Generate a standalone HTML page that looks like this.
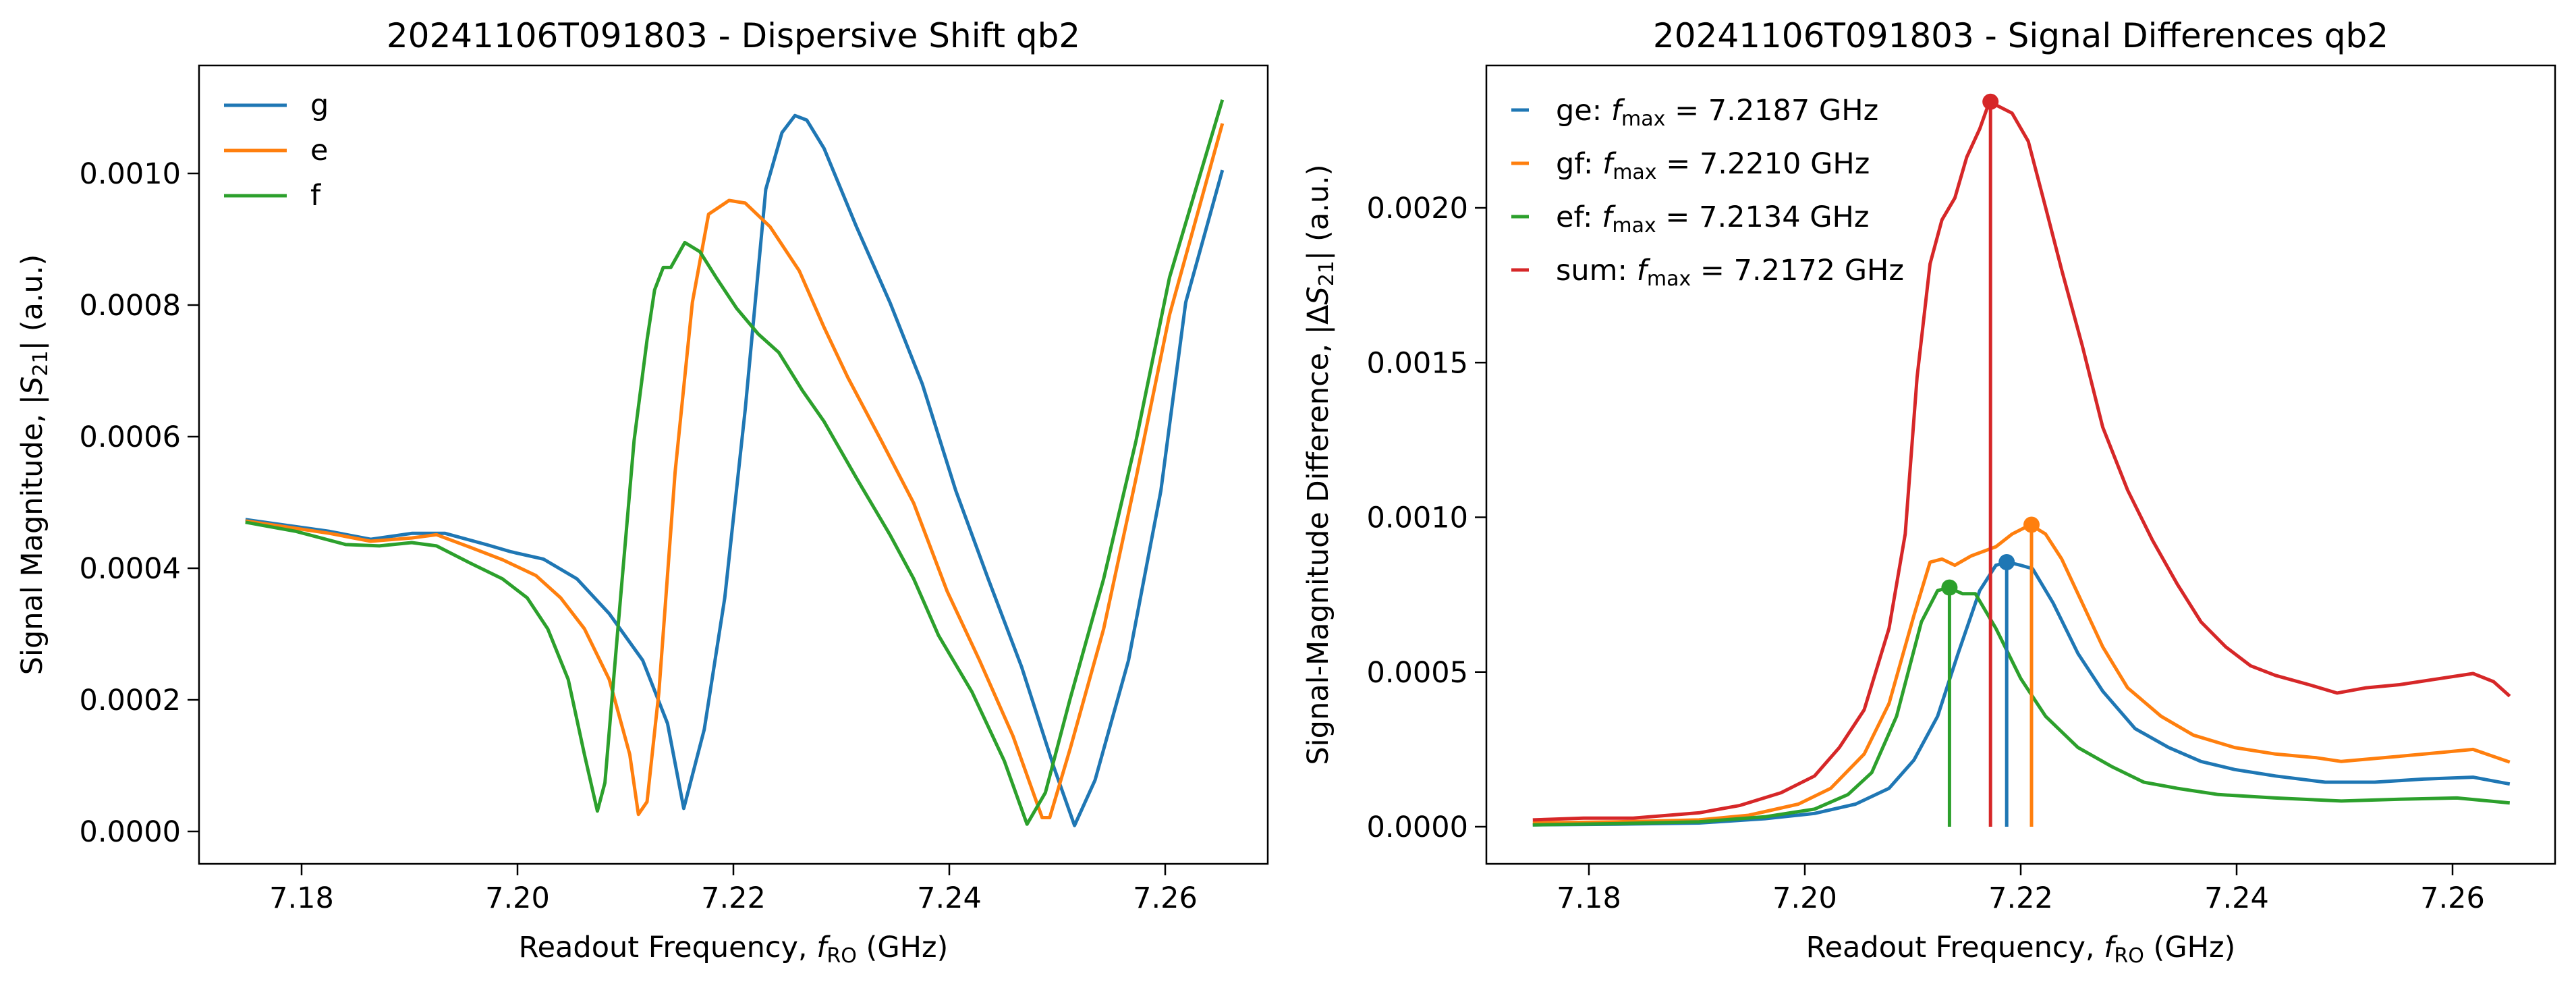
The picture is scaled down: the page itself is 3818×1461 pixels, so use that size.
<!DOCTYPE html>
<html><head><meta charset="utf-8"><style>
html,body{margin:0;padding:0;background:#fff;}
svg{display:block;font-family:"DejaVu Sans","Liberation Sans",sans-serif;}
</style></head><body>
<svg id="fig" width="3818" height="1461" viewBox="0 0 3818 1461" xmlns="http://www.w3.org/2000/svg"></svg>
<script>
// ---- Left chart data (Dispersive Shift) ----
const gFreq=[7.1748,7.1826,7.1864,7.1902,7.1933,7.1971,7.1994,7.2024,7.2055,7.2085,7.2116,7.2139,7.2154,7.2173,7.2192,7.2211,7.2230,7.2245,7.2257,7.2268,7.2284,7.2314,7.2345,7.2375,7.2406,7.2436,7.2467,7.2497,7.2516,7.2535,7.2566,7.2596,7.2619,7.2653];
const gMag=[0.000474,0.000456,0.000444,0.000453,0.000453,0.000436,0.000425,0.000414,0.000384,0.000331,0.000260,0.000164,0.000035,0.000155,0.000355,0.000642,0.000976,0.001062,0.001088,0.001081,0.001038,0.000919,0.000804,0.000680,0.000518,0.000384,0.000250,0.000097,0.000009,0.000078,0.000260,0.000518,0.000804,0.001005];
const eFreq=[7.1748,7.1826,7.1864,7.1902,7.1925,7.1956,7.1986,7.2017,7.2040,7.2062,7.2085,7.2104,7.2112,7.2120,7.2131,7.2146,7.2162,7.2177,7.2196,7.2211,7.2234,7.2261,7.2284,7.2306,7.2337,7.2367,7.2398,7.2428,7.2459,7.2486,7.2493,7.2512,7.2543,7.2573,7.2604,7.2653];
const eMag=[0.000472,0.000453,0.000441,0.000446,0.000451,0.000432,0.000413,0.000389,0.000355,0.000308,0.000231,0.000117,0.000026,0.000045,0.000212,0.000546,0.000804,0.000938,0.000959,0.000955,0.000919,0.000852,0.000766,0.000690,0.000594,0.000499,0.000365,0.000260,0.000145,0.000021,0.000021,0.000126,0.000308,0.000537,0.000785,0.001076];
const fFreq=[7.1748,7.1795,7.1841,7.1872,7.1902,7.1925,7.1956,7.1986,7.2009,7.2028,7.2047,7.2062,7.2074,7.2081,7.2093,7.2108,7.2120,7.2127,7.2135,7.2142,7.2155,7.2169,7.2184,7.2203,7.2223,7.2242,7.2264,7.2284,7.2314,7.2345,7.2367,7.2390,7.2421,7.2451,7.2472,7.2489,7.2512,7.2543,7.2573,7.2604,7.2653];
const fMag=[0.000470,0.000456,0.000436,0.000434,0.000439,0.000434,0.000408,0.000384,0.000355,0.000308,0.000231,0.000117,0.000031,0.000074,0.000308,0.000594,0.000747,0.000823,0.000857,0.000857,0.000895,0.000881,0.000842,0.000795,0.000756,0.000728,0.000670,0.000623,0.000537,0.000451,0.000384,0.000298,0.000212,0.000107,0.000011,0.000059,0.000202,0.000384,0.000594,0.000842,0.001112];
const leftYTicks=[0,0.0002,0.0004,0.0006,0.0008,0.0010];
const leftYTickLabels=["0.0000","0.0002","0.0004","0.0006","0.0008","0.0010"];
// ---- Right chart data (Signal Differences) ----
const sumFreq=[7.1748,7.1795,7.1841,7.1902,7.1940,7.1978,7.2009,7.2032,7.2055,7.2078,7.2093,7.2104,7.2116,7.2127,7.2139,7.2150,7.2162,7.2171,7.2183,7.2192,7.2207,7.2223,7.2238,7.2257,7.2276,7.2299,7.2322,7.2345,7.2367,7.2390,7.2413,7.2436,7.2467,7.2493,7.2520,7.2551,7.2581,7.2619,7.2638,7.2653];
const sumDiff=[0.000022,0.000028,0.000028,0.000045,0.000069,0.000110,0.000164,0.000256,0.000378,0.000641,0.000946,0.001453,0.001819,0.001961,0.002032,0.002164,0.002255,0.002343,0.002322,0.002306,0.002215,0.002002,0.001799,0.001555,0.001291,0.001088,0.000926,0.000784,0.000662,0.000581,0.000520,0.000489,0.000459,0.000432,0.000449,0.000459,0.000475,0.000495,0.000469,0.000422];
const gfFreq=[7.1748,7.1826,7.1902,7.1948,7.1994,7.2024,7.2055,7.2078,7.2101,7.2116,7.2127,7.2139,7.2154,7.2177,7.2192,7.2209,7.2223,7.2238,7.2257,7.2276,7.2299,7.2330,7.2360,7.2398,7.2436,7.2474,7.2497,7.2543,7.2589,7.2619,7.2653];
const gfDiff=[0.000012,0.000016,0.000022,0.000037,0.000073,0.000124,0.000235,0.000398,0.000682,0.000855,0.000865,0.000845,0.000875,0.000905,0.000946,0.000976,0.000946,0.000865,0.000723,0.000581,0.000449,0.000357,0.000296,0.000256,0.000235,0.000223,0.000211,0.000225,0.000240,0.000250,0.000209];
const geFreq=[7.1748,7.1826,7.1902,7.1963,7.2009,7.2047,7.2078,7.2101,7.2123,7.2142,7.2162,7.2177,7.2188,7.2200,7.2211,7.2230,7.2253,7.2276,7.2306,7.2337,7.2367,7.2398,7.2436,7.2482,7.2528,7.2573,7.2619,7.2653];
const geDiff=[0.000006,0.000008,0.000012,0.000026,0.000043,0.000073,0.000124,0.000215,0.000357,0.000560,0.000763,0.000845,0.000855,0.000845,0.000834,0.000723,0.000560,0.000438,0.000317,0.000256,0.000211,0.000185,0.000164,0.000144,0.000144,0.000154,0.000160,0.000138];
const efFreq=[7.1748,7.1826,7.1902,7.1963,7.2009,7.2040,7.2062,7.2085,7.2108,7.2123,7.2133,7.2146,7.2158,7.2177,7.2200,7.2223,7.2253,7.2284,7.2314,7.2345,7.2383,7.2436,7.2497,7.2551,7.2604,7.2653];
const efDiff=[0.000006,0.000010,0.000016,0.000032,0.000057,0.000104,0.000175,0.000357,0.000662,0.000763,0.000773,0.000753,0.000753,0.000641,0.000479,0.000357,0.000256,0.000195,0.000144,0.000124,0.000104,0.000093,0.000083,0.000089,0.000093,0.000077];
const peakNames=["ge","gf","ef","sum"];
const peakFreq=[7.2187,7.2210,7.2134,7.2172];
const peakVal=[0.000855,0.000976,0.000773,0.002343];
const rightYTicks=[0,0.0005,0.0010,0.0015,0.0020];
const rightYTickLabels=["0.0000","0.0005","0.0010","0.0015","0.0020"];
const xTicks=[7.18,7.20,7.22,7.24,7.26];
const xTickLabels=["7.18","7.20","7.22","7.24","7.26"];

const C={blue:"#1f77b4",orange:"#ff7f0e",green:"#2ca02c",red:"#d62728"};
const NS="http://www.w3.org/2000/svg";
const svg=document.getElementById('fig');
function mk(tag,attrs,parent,text){const e=document.createElementNS(NS,tag);for(const k in attrs)e.setAttribute(k,attrs[k]);if(text!==undefined)e.textContent=text;(parent||svg).appendChild(e);return e;}

function axes(x0,name,y0px,pxPerUnit,yTicks,yLabels,title,ylabelHTML,ylabX){
  const g=mk('g',{});
  
  
  const top=97,bot=1280,W=1584;
  const X=v=>x0+(v-7.1705)*(W/0.099);
  const Y=v=>y0px-v*pxPerUnit;
  const t=mk('text',{x:x0+W/2,y:70,'font-size':50,'text-anchor':'middle',fill:'#000'},g,title);
  
  
  xTicks.forEach((v,i)=>{
    mk('line',{x1:X(v),x2:X(v),y1:bot,y2:bot+17,stroke:'#000','stroke-width':2.5},g);
    const tl=mk('text',{x:X(v),y:1345,'font-size':43,'text-anchor':'middle'},g,xTickLabels[i]);
    
    
  });
  yTicks.forEach((v,i)=>{
    mk('line',{x1:x0-17,x2:x0,y1:Y(v),y2:Y(v),stroke:'#000','stroke-width':2.5},g);
    const tl=mk('text',{x:x0-27,y:Y(v)+15,'font-size':43,'text-anchor':'end'},g,yLabels[i]);
    
    
  });
  const xl=mk('text',{x:x0+W/2,y:1418,'font-size':43,'text-anchor':'middle'},g);
  xl.innerHTML='Readout Frequency, <tspan font-style="italic">f</tspan><tspan font-size="30" dy="8">RO</tspan><tspan dy="-8"> (GHz)</tspan>';
  
  
  const yl=mk('text',{x:0,y:0,'font-size':43,'text-anchor':'middle',transform:`translate(${ylabX},${(top+bot)/2}) rotate(-90)`},g);
  yl.innerHTML=ylabelHTML;
  
  
  return {g,X,Y,frame:()=>{const r=mk('rect',{x:x0,y:top,width:W,height:bot-top,fill:'none',stroke:'#000','stroke-width':2.5},g);}};
}
function line(ax,xs,ys,color,name){
  const d=xs.map((x,i)=>(i?'L':'M')+ax.X(x).toFixed(1)+','+ax.Y(ys[i]).toFixed(1)).join('');
  const p=mk('path',{d,fill:'none',stroke:color,'stroke-width':5,'stroke-linejoin':'round'},ax.g);
  
  
}

// Left chart
const L=axes(295,'dispersive-shift-chart',1232,975000,leftYTicks,leftYTickLabels,'20241106T091803 - Dispersive Shift qb2','Signal Magnitude, |<tspan font-style="italic">S</tspan><tspan font-size="30" dy="8">21</tspan><tspan dy="-8">| (a.u.)</tspan>',62);
line(L,gFreq,gMag,C.blue,'line-g');
line(L,eFreq,eMag,C.orange,'line-e');
line(L,fFreq,fMag,C.green,'line-f');
L.frame();
[['g',C.blue],['e',C.orange],['f',C.green]].forEach((it,i)=>{
  const y=156+i*67;
  const gg=mk('g',{},L.g);
  
  
  mk('line',{x1:332,x2:425,y1:y,y2:y,stroke:it[1],'stroke-width':5},gg);
  mk('text',{x:460,y:y+14,'font-size':43},gg,it[0]);
});

// Right chart
const R=axes(2203,'signal-differences-chart',1225,458500,rightYTicks,rightYTickLabels,'20241106T091803 - Signal Differences qb2','Signal-Magnitude Difference, |Δ<tspan font-style="italic">S</tspan><tspan font-size="30" dy="8">21</tspan><tspan dy="-8">| (a.u.)</tspan>',1968);
line(R,geFreq,geDiff,C.blue,'line-ge');
line(R,gfFreq,gfDiff,C.orange,'line-gf');
line(R,efFreq,efDiff,C.green,'line-ef');
line(R,sumFreq,sumDiff,C.red,'line-sum');
const pc=[C.blue,C.orange,C.green,C.red];
peakFreq.forEach((f,i)=>{
  const vl=mk('line',{x1:R.X(f),x2:R.X(f),y1:R.Y(0),y2:R.Y(peakVal[i]),stroke:pc[i],'stroke-width':5},R.g);
  
  
  const m=mk('circle',{cx:R.X(f),cy:R.Y(peakVal[i]),r:12,fill:pc[i]},R.g);
  
  
});
R.frame();
peakNames.forEach((n,i)=>{
  const y=163+i*79;
  const gg=mk('g',{},R.g);
  
  
  mk('line',{x1:2240,x2:2266,y1:y,y2:y,stroke:pc[i],'stroke-width':5},gg);
  const t=mk('text',{x:2306,y:y+15,'font-size':43},gg);
  t.innerHTML=n+': <tspan font-style="italic">f</tspan><tspan font-size="30" dy="8">max</tspan><tspan dy="-8"> = '+peakFreq[i].toFixed(4)+' GHz</tspan>';
});
</script>
</body></html>
